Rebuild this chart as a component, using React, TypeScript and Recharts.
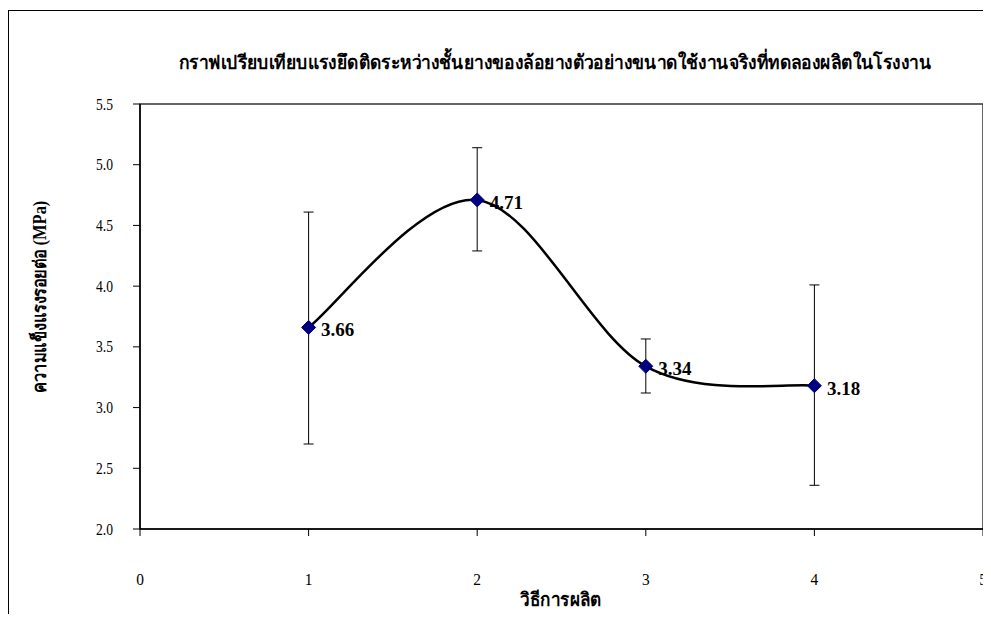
import React from "react";
import {
  LineChart,
  Line,
  XAxis,
  YAxis,
  ErrorBar,
  LabelList,
  ReferenceArea,
} from "recharts";

const chartTitle =
  "กราฟเปรียบเทียบแรงยึดติดระหว่างชั้นยางของล้อยางตัวอย่างขนาดใช้งานจริงที่ทดลองผลิตในโรงงาน";
const xTitle = "วิธีการผลิต";
const yTitle = "ความแข็งแรงรอยต่อ (MPa)";

const methods = [1, 2, 3, 4];
const strength = [3.66, 4.71, 3.34, 3.18];
const errMinus = [0.96, 0.42, 0.22, 0.82];
const errPlus = [0.95, 0.43, 0.225, 0.83];

const xTicks = [0, 1, 2, 3, 4, 5];
const yTicks = [2.0, 2.5, 3.0, 3.5, 4.0, 4.5, 5.0, 5.5];

const data = methods.map((m, i) => ({
  x: m,
  y: strength[i],
  err: [errMinus[i], errPlus[i]],
}));

const SERIF = "'Liberation Serif', 'Times New Roman', serif";

// Excel-like smoothed line (uniform Catmull-Rom)
function excelSmooth(context: any) {
  let pts: [number, number][] = [];
  return {
    areaStart() {},
    areaEnd() {},
    lineStart() {
      pts = [];
    },
    lineEnd() {
      const n = pts.length;
      if (!n) return;
      context.moveTo(pts[0][0], pts[0][1]);
      for (let i = 0; i < n - 1; i++) {
        const p0 = pts[Math.max(i - 1, 0)];
        const p1 = pts[i];
        const p2 = pts[i + 1];
        const p3 = pts[Math.min(i + 2, n - 1)];
        context.bezierCurveTo(
          p1[0] + (p2[0] - p0[0]) / 6,
          p1[1] + (p2[1] - p0[1]) / 6,
          p2[0] - (p3[0] - p1[0]) / 6,
          p2[1] - (p3[1] - p1[1]) / 6,
          p2[0],
          p2[1]
        );
      }
    },
    point(x: number, y: number) {
      pts.push([+x, +y]);
    },
  };
}

const Diamond = (props: any) => {
  const { cx, cy } = props;
  if (cx == null || cy == null) return null;
  const r = 7;
  return (
    <polygon
      points={`${cx},${cy - r} ${cx + r},${cy} ${cx},${cy + r} ${cx - r},${cy}`}
      fill="#000080"
      stroke="#000080"
      strokeWidth={1}
    />
  );
};

const XTick = (props: any) => {
  const { x, y, payload } = props;
  return (
    <text
      transform={`translate(${x}, ${y + 49}) scale(0.88, 1)`}
      x={0}
      y={0}
      textAnchor="middle"
      fontFamily={SERIF}
      fontSize={17.5}
      fill="#000"
    >
      {payload.value}
    </text>
  );
};

const YTick = (props: any) => {
  const { x, y, payload } = props;
  return (
    <text
      transform={`translate(${x}, ${y + 5.5}) scale(0.8, 1)`}
      x={0}
      y={0}
      textAnchor="end"
      fontFamily={SERIF}
      fontSize={17}
      fill="#000"
    >
      {Number(payload.value).toFixed(1)}
    </text>
  );
};

const PointLabel = (props: any) => {
  const { x, y, value } = props;
  return (
    <text x={x + 12.5} y={y + 9} fontFamily={SERIF} fontSize={19} fontWeight="bold" fill="#000">
      {Number(value).toFixed(2)}
    </text>
  );
};

export default function App() {
  const W = 983;
  const H = 606;
  return (
    <LineChart
      width={W}
      height={H}
      data={data}
      margin={{ top: 96, right: 8, bottom: 0, left: 0 }}
    >
      <rect x={0.5} y={2.5} width={W + 20} height={H + 20} fill="none" stroke="#000" strokeWidth={1} />
      <text
        transform="translate(547, 61) scale(0.9, 1)"
        x={0}
        y={0}
        textAnchor="middle"
        fontFamily={SERIF}
        fontSize={19.4}
        fontWeight="bold"
        fill="#000"
      >
        {chartTitle}
      </text>
      <text
        x={0}
        y={0}
        transform="translate(38, 289) rotate(-90) scale(0.9, 1)"
        textAnchor="middle"
        fontFamily={SERIF}
        fontSize={18.3}
        fontWeight="bold"
        fill="#000"
      >
        {yTitle}
      </text>
      <text
        transform="translate(553, 598) scale(0.9, 1)"
        x={0}
        y={0}
        textAnchor="middle"
        fontFamily={SERIF}
        fontSize={19}
        fontWeight="bold"
        fill="#000"
      >
        {xTitle}
      </text>
      <XAxis
        dataKey="x"
        type="number"
        domain={[0, 5]}
        ticks={xTicks}
        allowDataOverflow
        height={85}
        tickSize={7}
        tickMargin={0}
        tick={<XTick />}
        axisLine={{ stroke: "#000", strokeWidth: 1.5 }}
        tickLine={{ stroke: "#000" }}
        interval={0}
      />
      <YAxis
        type="number"
        domain={[2, 5.5]}
        ticks={yTicks}
        allowDataOverflow
        width={132}
        tickSize={7}
        tickMargin={20}
        tick={<YTick />}
        axisLine={{ stroke: "#000", strokeWidth: 1.5 }}
        tickLine={{ stroke: "#000" }}
        interval={0}
      />
      <ReferenceArea
        x1={0}
        x2={5}
        y1={2}
        y2={5.5}
        fill="none"
        fillOpacity={0}
        stroke="#333"
        strokeWidth={1.5}
        ifOverflow="visible"
      />
      <Line
        dataKey="y"
        type={excelSmooth as any}
        stroke="#000"
        strokeWidth={2.5}
        dot={<Diamond />}
        activeDot={false}
        isAnimationActive={false}
      >
        <ErrorBar dataKey="err" direction="y" width={5} stroke="#000" strokeWidth={1} />
        <LabelList dataKey="y" content={<PointLabel />} />
      </Line>
    </LineChart>
  );
}
